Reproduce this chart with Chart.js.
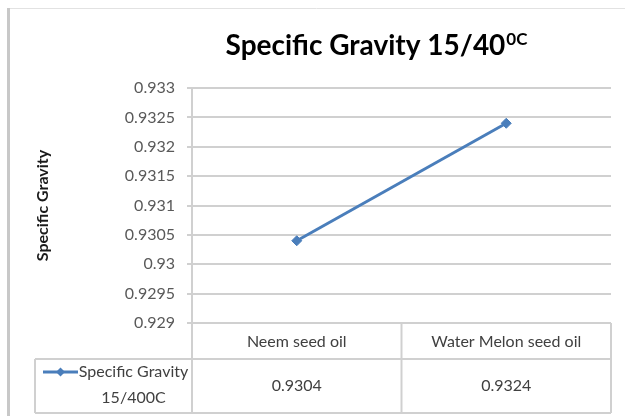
<!DOCTYPE html>
<html><head><meta charset="utf-8">
<script src="https://cdn.jsdelivr.net/npm/chart.js@4.4.0/dist/chart.umd.min.js"></script>
<style>html,body{margin:0;padding:0;background:#fff;}canvas{display:block;}</style>
</head><body>
<canvas id="c" width="625" height="416"></canvas>
<script>
// ---- data ----
const categories = ['Neem seed oil', 'Water Melon seed oil'];
const seriesName = 'Specific Gravity 15/400C';
const specificGravity = [0.9304, 0.9324];
const yAxisTitle = 'Specific Gravity';
const titleMain = 'Specific Gravity 15/40';
const titleSup = '0C';
const yMin = 0.929;
const yMax = 0.933;
const yStep = 0.0005;

// ---- styles ----
const FONT = 'Lato, "Open Sans", sans-serif';
const LINE = '#4a7ebb';
const GRID = '#d0d0d0';
const TEXT = '#404040';

const chartDecor = {
  id: 'chartDecor',
  beforeDraw(chart) {
    const ctx = chart.ctx;
    ctx.save();
    ctx.fillStyle = '#fff';
    ctx.fillRect(0, 0, chart.width, chart.height);
    // outer chart border (left + top visible)
    ctx.strokeStyle = '#e2e2e2'; ctx.lineWidth = 1;
    ctx.beginPath(); ctx.moveTo(8, 8.5); ctx.lineTo(chart.width, 8.5); ctx.stroke();
    ctx.strokeStyle = '#c8c8c8'; ctx.lineWidth = 3;
    ctx.beginPath(); ctx.moveTo(8.5, 8); ctx.lineTo(8.5, chart.height); ctx.stroke();
    // title with superscript
    ctx.fillStyle = '#000';
    ctx.textAlign = 'left'; ctx.textBaseline = 'alphabetic';
    ctx.font = 'bold 28px ' + FONT;
    const w1 = ctx.measureText(titleMain).width;
    ctx.font = 'bold 17px ' + FONT;
    const w2 = ctx.measureText(titleSup).width;
    const start = 376 - (w1 + w2) / 2;
    ctx.font = 'bold 28px ' + FONT;
    ctx.fillText(titleMain, start, 55);
    ctx.font = 'bold 17px ' + FONT;
    ctx.fillText(titleSup, start + w1 + 1, 45);
    ctx.restore();
  },
  afterDraw(chart) {
    const ctx = chart.ctx;
    const xs = chart.scales.x;
    const a = chart.chartArea;
    const top = a.bottom, mid = top + 36, bot = mid + 54;
    const legendLeft = 35;
    const n = categories.length;
    const edges = [a.left];
    for (let i = 0; i < n - 1; i++) {
      edges.push((xs.getPixelForValue(i) + xs.getPixelForValue(i + 1)) / 2);
    }
    edges.push(a.right);
    ctx.save();
    ctx.strokeStyle = GRID; ctx.lineWidth = 2;
    const ln = (x1, y1, x2, y2) => { ctx.beginPath(); ctx.moveTo(x1, y1); ctx.lineTo(x2, y2); ctx.stroke(); };
    ln(a.left, top, a.right, top);
    ln(legendLeft, mid, a.right, mid);
    ln(legendLeft, bot, a.right, bot);
    edges.forEach(e => ln(e, top, e, bot));
    ln(legendLeft, mid, legendLeft, bot);
    // header and values
    ctx.fillStyle = TEXT;
    ctx.font = '16px ' + FONT;
    ctx.textAlign = 'center'; ctx.textBaseline = 'middle';
    categories.forEach((c, i) => ctx.fillText(c, xs.getPixelForValue(i), (top + mid) / 2 + 1));
    specificGravity.forEach((v, i) => ctx.fillText(v.toFixed(4), xs.getPixelForValue(i), (mid + bot) / 2));
    // legend key
    const ky = mid + 13;
    ctx.strokeStyle = LINE; ctx.lineWidth = 3;
    ln(43, ky, 78, ky);
    ctx.fillStyle = LINE;
    ctx.beginPath();
    ctx.moveTo(60.5, ky - 4.5); ctx.lineTo(65, ky); ctx.lineTo(60.5, ky + 4.5); ctx.lineTo(56, ky);
    ctx.closePath(); ctx.fill();
    // wrapped series name
    ctx.fillStyle = TEXT;
    const words = seriesName.split(' ');
    const lines = [];
    let cur = '';
    words.forEach(w => {
      const t = cur ? cur + ' ' + w : w;
      if (ctx.measureText(t).width > 112 && cur) { lines.push(cur); cur = w; } else cur = t;
    });
    if (cur) lines.push(cur);
    lines.forEach((l, i) => ctx.fillText(l, 133.5, ky + i * 26));
    ctx.restore();
  }
};

new Chart(document.getElementById('c'), {
  type: 'line',
  data: {
    labels: categories,
    datasets: [{
      label: seriesName,
      data: specificGravity,
      borderColor: LINE,
      backgroundColor: LINE,
      borderWidth: 3,
      pointStyle: 'rectRot',
      pointRadius: 5,
      pointHoverRadius: 5,
      pointBackgroundColor: LINE,
      pointBorderColor: LINE,
      pointBorderWidth: 1,
      tension: 0,
      fill: false
    }]
  },
  options: {
    responsive: false,
    animation: false,
    devicePixelRatio: 1,
    layout: { padding: { top: 88, right: 14, bottom: 93, left: 33 } },
    plugins: { legend: { display: false }, title: { display: false }, tooltip: { enabled: false } },
    scales: {
      x: { display: false, offset: true },
      y: {
        min: yMin, max: yMax,
        afterFit(scale) { scale.width = 159; },
        ticks: {
          stepSize: yStep,
          padding: 12,
          color: '#595959',
          font: { family: FONT, size: 16 },
          callback: v => String(+(+v).toFixed(4))
        },
        grid: { color: GRID, lineWidth: 2, tickLength: 5, drawTicks: true },
        border: { display: true, color: GRID, width: 2 },
        title: {
          display: true, text: yAxisTitle, padding: 0,
          color: '#1a1a1a',
          font: { family: FONT, size: 16, weight: 'bold' }
        }
      }
    }
  },
  plugins: [chartDecor]
});
</script>
</body></html>
